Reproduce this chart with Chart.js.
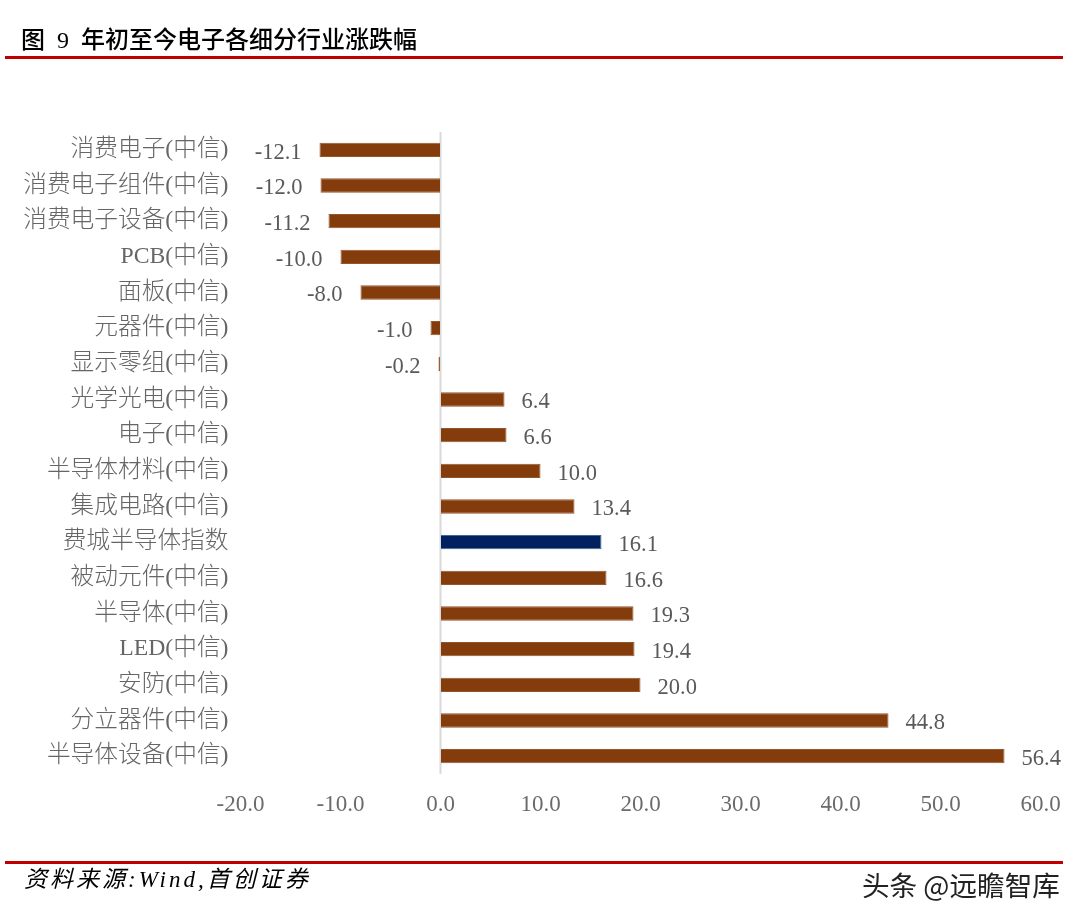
<!DOCTYPE html>
<html><head><meta charset="utf-8">
<script src="https://cdn.jsdelivr.net/npm/chart.js@4"></script>
<style>
html,body{margin:0;padding:0;background:#fff;width:1083px;height:922px;overflow:hidden}
#wrap{position:relative;width:1083px;height:922px}
canvas{position:absolute;left:0;top:0}
.t{position:absolute;white-space:nowrap}
.rule{position:absolute;left:5px;width:1058px;height:3px;background:#c00000}
</style></head><body>
<div id="wrap">
<canvas id="c" width="1083" height="922"></canvas>
<div class="t" style="left:21px;top:25px;font:500 24px/30px 'Liberation Serif','Noto Sans CJK SC';color:#000;white-space:pre">图  9  年初至今电子各细分行业涨跌幅</div>
<div class="rule" style="top:56px"></div>
<div class="rule" style="top:861px"></div>
<div class="t" style="left:24px;top:865px;font:italic 23px/30px 'Liberation Serif','Noto Sans CJK SC';letter-spacing:3px;color:#000">资料来源:Wind,首创证券</div>
<div class="t" style="left:862px;top:866px;font:27.6px/36px 'Noto Sans CJK SC';color:#222">头条 @远瞻智库</div>
</div>
<script>
const categories=["消费电子(中信)","消费电子组件(中信)","消费电子设备(中信)","PCB(中信)","面板(中信)","元器件(中信)","显示零组(中信)","光学光电(中信)","电子(中信)","半导体材料(中信)","集成电路(中信)","费城半导体指数","被动元件(中信)","半导体(中信)","LED(中信)","安防(中信)","分立器件(中信)","半导体设备(中信)"];
const values=[-12.1,-12.0,-11.2,-10.0,-8.0,-1.0,-0.2,6.4,6.6,10.0,13.4,16.1,16.6,19.3,19.4,20.0,44.8,56.4];
const BROWN="#843c0c",NAVY="#002060";
const barColors=categories.map(c=>c==="费城半导体指数"?NAVY:BROWN);
const borderColors=categories.map(c=>c==="费城半导体指数"?"#3f6a8f":"#96562c");
const FONT="'Liberation Serif','Noto Sans CJK SC'";
const valueLabels={id:"valueLabels",afterDatasetsDraw(chart){
  const ctx=chart.ctx,meta=chart.getDatasetMeta(0);
  ctx.save();ctx.font="22.5px "+FONT;ctx.fillStyle="#595959";ctx.textBaseline="middle";
  meta.data.forEach((b,i)=>{
    const v=values[i];
    ctx.textAlign=v<0?"right":"left";
    ctx.fillText(v.toFixed(1),b.x+(v<0?-18:17),b.y+3);
  });
  ctx.restore();
}};
new Chart(document.getElementById("c"),{
  type:"bar",
  data:{labels:categories,datasets:[{data:values,backgroundColor:barColors,borderColor:borderColors,borderWidth:1,barPercentage:1,categoryPercentage:0.4}]},
  options:{
    indexAxis:"y",responsive:false,animation:false,
    layout:{padding:{left:0,right:42.5,top:132,bottom:0}},
    plugins:{legend:{display:false},tooltip:{enabled:false}},
    scales:{
      x:{min:-20,max:60,
        ticks:{stepSize:10,color:"#6b6b6b",font:{size:23,family:FONT},padding:17,maxRotation:0,callback:v=>Number(v).toFixed(1)},
        grid:{drawTicks:false,drawOnChartArea:false},border:{display:false},
        afterFit(s){s.height=148}},
      y:{ticks:{color:"#666666",font:{size:23.7,family:FONT,weight:"300"},padding:12,autoSkip:false,
           callback(v){return categories[v]}},
        grid:{drawOnChartArea:false,drawTicks:false},border:{display:false},
        afterFit(s){s.width=240.5}}
    }
  },
  plugins:[{id:"zeroLine",beforeDatasetsDraw(chart){
    const x=chart.scales.x.getPixelForValue(0),a=chart.chartArea,ctx=chart.ctx;
    ctx.save();ctx.strokeStyle="#d9d9d9";ctx.lineWidth=2;ctx.beginPath();ctx.moveTo(x,a.top);ctx.lineTo(x,a.bottom);ctx.stroke();ctx.restore();
  }},valueLabels]
});
</script>
</body></html>
